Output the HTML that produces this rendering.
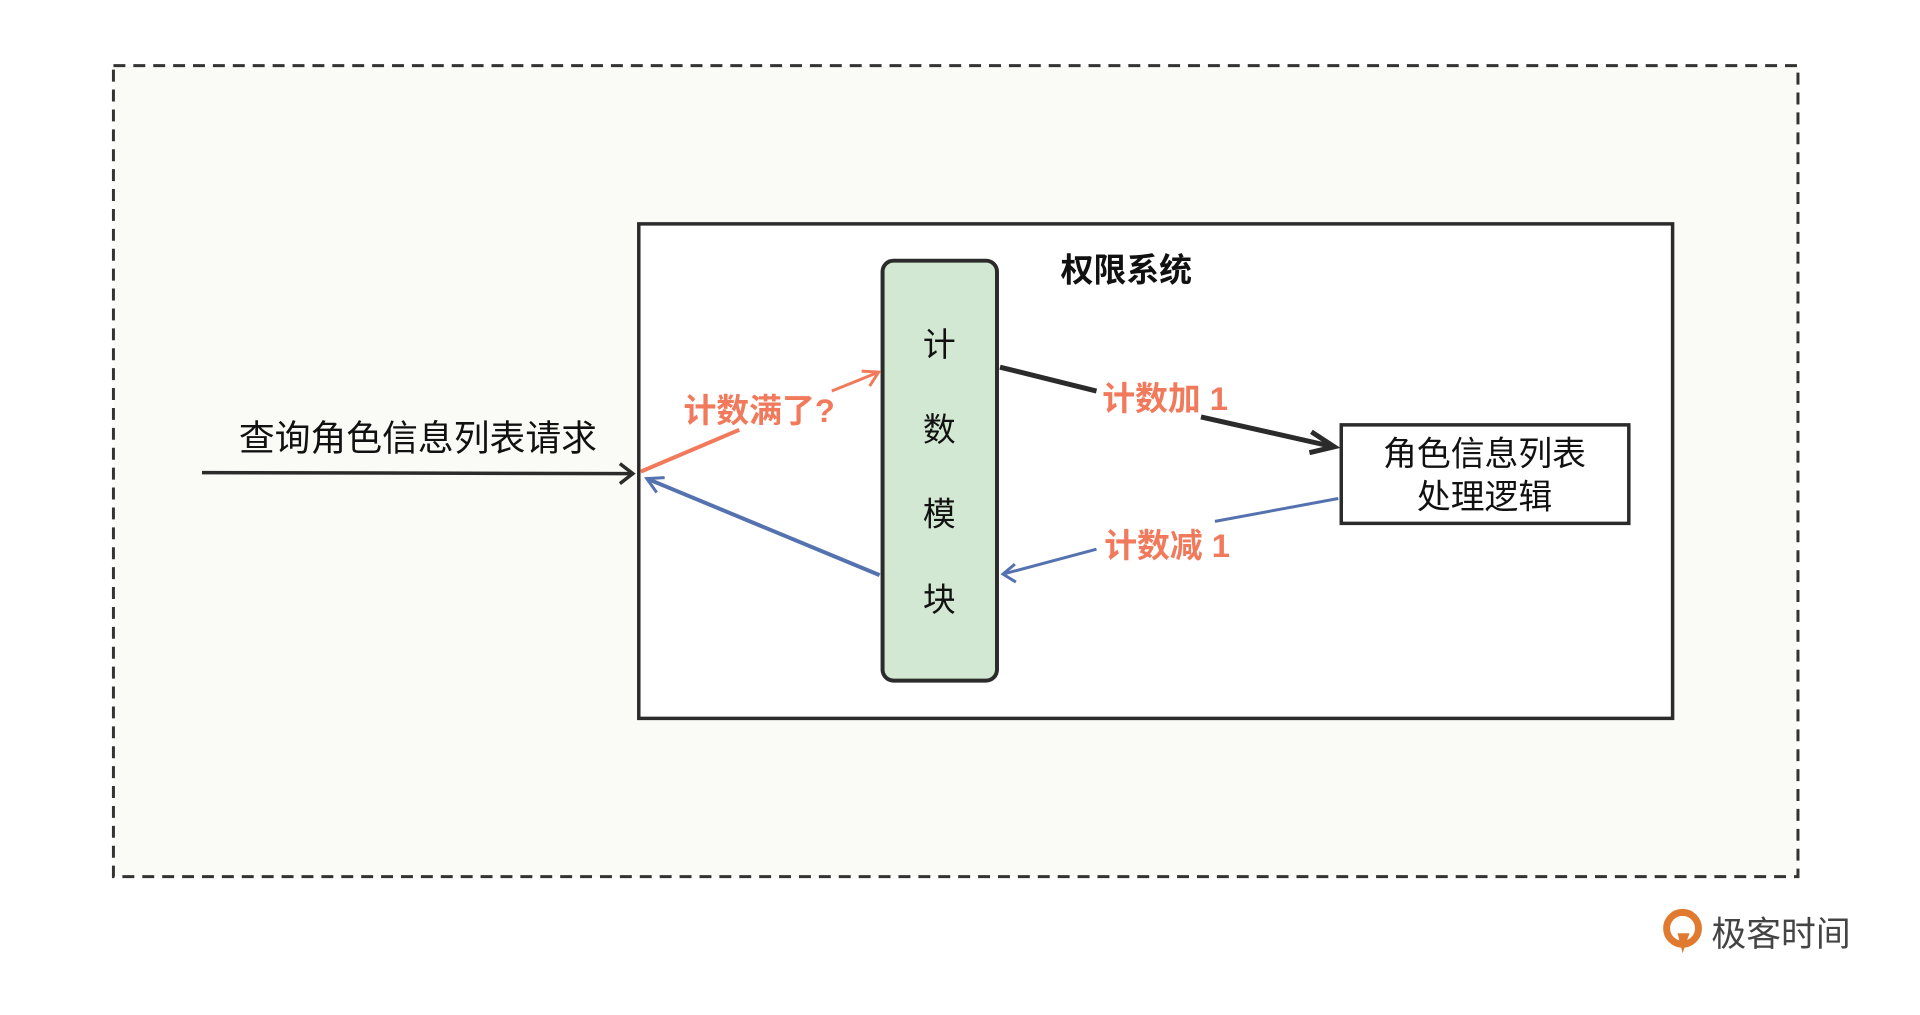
<!DOCTYPE html>
<html><head><meta charset="utf-8"><style>
html,body{margin:0;padding:0;background:#fff;}
svg{display:block;}
text{font-family:"Liberation Sans","Noto Sans CJK SC",sans-serif;}
</style></head><body>
<svg width="1920" height="1015" viewBox="0 0 1920 1015" xmlns="http://www.w3.org/2000/svg">
<g transform="scale(0.995)">
<rect x="114" y="66" width="1693" height="815" fill="#fafaf6" stroke="#333" stroke-width="3" stroke-dasharray="12,8"/>
<rect x="642" y="225" width="1039" height="497" fill="#fff" stroke="#2b2b2b" stroke-width="3.5"/>
<rect x="887" y="262" width="115" height="422" rx="11" fill="#d3e8d2" stroke="#2b2b2b" stroke-width="4"/>
<g font-size="33" fill="#111" text-anchor="middle">
<text x="944" y="358">计</text>
<text x="944" y="443">数</text>
<text x="944" y="528">模</text>
<text x="944" y="614">块</text>
</g>
<text x="1132" y="283" font-size="33" font-weight="bold" fill="#111" text-anchor="middle">权限系统</text>
<text x="420" y="453" font-size="36" fill="#111" text-anchor="middle">查询角色信息列表请求</text>
<line x1="203" y1="475" x2="635" y2="476" stroke="#2b2b2b" stroke-width="3.5"/>
<path d="M623 466 L636 476 L623 486" fill="none" stroke="#2b2b2b" stroke-width="3.5"/>
<line x1="644" y1="474" x2="743" y2="432" stroke="#f07a5a" stroke-width="4"/>
<line x1="836" y1="393" x2="883" y2="374" stroke="#f07a5a" stroke-width="3"/>
<path d="M866 373 L883 374 L874 388" fill="none" stroke="#f07a5a" stroke-width="3"/>
<text x="763" y="424" font-size="33" font-weight="bold" fill="#f27a5c" text-anchor="middle">计数满了?</text>
<line x1="884" y1="578" x2="650" y2="481" stroke="#5572b0" stroke-width="4"/>
<path d="M668 480 L650 481 L660 495" fill="none" stroke="#5572b0" stroke-width="3"/>
<line x1="1005" y1="369" x2="1102" y2="393" stroke="#2b2b2b" stroke-width="5"/>
<line x1="1207" y1="419" x2="1340" y2="449" stroke="#2b2b2b" stroke-width="5"/>
<path d="M1318 434 L1341 449 L1316 455" fill="none" stroke="#2b2b2b" stroke-width="5"/>
<text x="1171" y="412" font-size="33" font-weight="bold" fill="#f27a5c" text-anchor="middle">计数加 1</text>
<line x1="1345" y1="501" x2="1221" y2="524" stroke="#5572b0" stroke-width="3"/>
<line x1="1102" y1="552" x2="1008" y2="577" stroke="#5572b0" stroke-width="3"/>
<path d="M1020 567 L1008 577 L1021 585" fill="none" stroke="#5572b0" stroke-width="3"/>
<text x="1173" y="560" font-size="33" font-weight="bold" fill="#f27a5c" text-anchor="middle">计数减 1</text>
<rect x="1348" y="427" width="289" height="99" fill="#fff" stroke="#2b2b2b" stroke-width="3.5"/>
<text x="1492" y="468" font-size="34" fill="#111" text-anchor="middle">角色信息列表</text>
<text x="1492" y="511" font-size="34" fill="#111" text-anchor="middle">处理逻辑</text>
<g>
<circle cx="1691" cy="933" r="16" fill="none" stroke="#e07a30" stroke-width="7"/>
<path d="M1686 938 L1691 958 L1698 938 Z" fill="#e07a30"/>
<text x="1720" y="951" font-size="35" fill="#444">极客时间</text>
</g>
</g>
</svg>
</body></html>
